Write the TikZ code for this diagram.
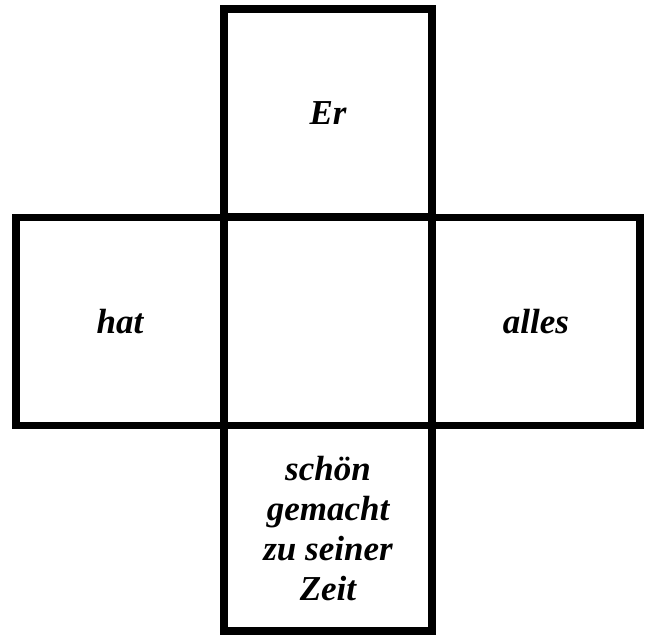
\documentclass[tikz,border=0pt]{standalone}
\usepackage{fontspec}
\setmainfont{Liberation Serif}

\begin{document}
\begin{tikzpicture}[x=1pt,y=-1pt, every node/.style={font=\fontsize{35}{40}\selectfont\bfseries\itshape},
  feld/.style={draw,line width=7.5pt,minimum size=208pt,inner sep=0pt,align=center}]
\useasboundingbox (0,0) rectangle (645,635);
\node[feld] (er) at (328,113) {Er};
\node[feld] (hat) at (120,321.5) {hat};
\node[feld] (mitte) at (328,321.5) {};
\node[feld] (alles) at (536,321.5) {alles};
\node[feld,minimum height=205.5pt] (zeit) at (328,528.25) {schön\\gemacht\\zu seiner\\Zeit};
\end{tikzpicture}
\end{document}
